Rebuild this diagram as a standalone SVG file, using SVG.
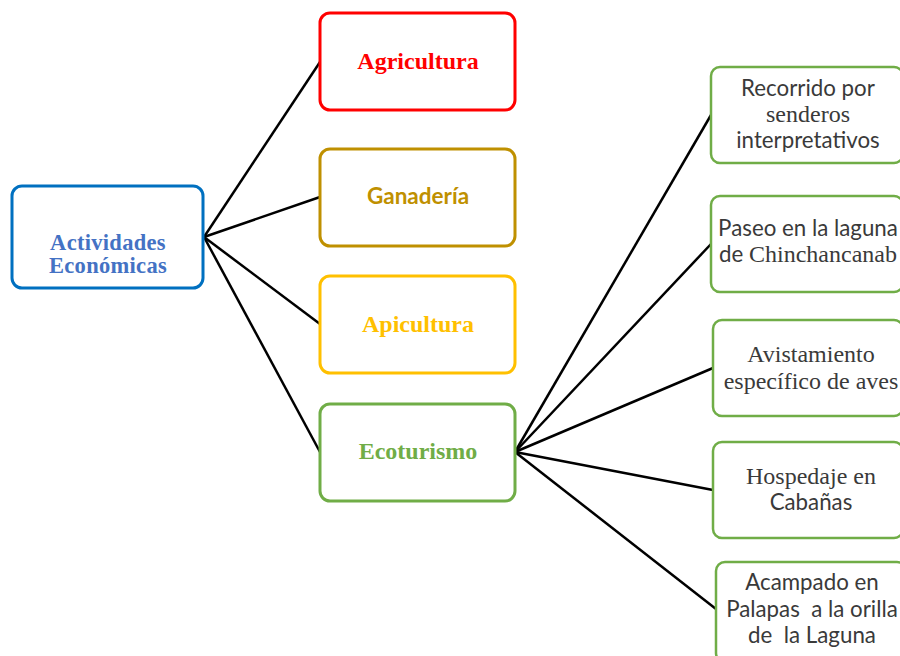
<svg xmlns="http://www.w3.org/2000/svg" width="900" height="656" viewBox="0 0 900 656">
<style>
.box{fill:#fff;stroke-width:3}
.rbox{fill:#fff;stroke:#70ad47;stroke-width:2.5}
.serifb{font-family:"Liberation Serif","Times New Roman",serif;font-weight:bold;font-size:24px;text-anchor:middle}
.lt{font-size:22.5px;letter-spacing:0.3px}
.sansb{font-family:Lato,"Liberation Sans",sans-serif;font-weight:bold;font-size:22.5px;text-anchor:middle}
.rt{fill:#3a3a3a;text-anchor:middle}
.s{font-family:Lato,"Liberation Sans",sans-serif;font-size:22.3px}
.r{font-family:"Liberation Serif","Times New Roman",serif;font-size:24px}
.conn{stroke:#000;stroke-width:2.5;fill:none}
</style>
<rect width="900" height="656" fill="#fff"/>
<g id="connectors" class="conn">
<line x1="204" y1="237" x2="320" y2="62"/>
<line x1="204" y1="237" x2="320" y2="197"/>
<line x1="204" y1="237" x2="320" y2="324"/>
<line x1="204" y1="237" x2="320" y2="452"/>
<line x1="515" y1="452" x2="711" y2="115"/>
<line x1="515" y1="452" x2="711" y2="244"/>
<line x1="515" y1="452" x2="713" y2="368"/>
<line x1="515" y1="452" x2="713" y2="490"/>
<line x1="515" y1="452" x2="716" y2="609"/>
</g>
<g id="actividades">
<rect class="box" x="12" y="186" width="191" height="102" rx="10" stroke="#0070c0"/>
<text class="serifb lt" x="108" y="249.5" fill="#4472c4">Actividades</text>
<text class="serifb lt" x="108" y="272.5" fill="#4472c4">Económicas</text>
</g>
<g id="agricultura">
<rect class="box" x="320" y="13" width="195" height="97" rx="10" stroke="#ff0000"/>
<text class="serifb" x="418" y="69" fill="#ff0000">Agricultura</text>
</g>
<g id="ganaderia">
<rect class="box" x="320" y="149" width="195" height="97" rx="10" stroke="#bf9000"/>
<text class="sansb" x="418" y="204" fill="#bf9000">Ganadería</text>
</g>
<g id="apicultura">
<rect class="box" x="320" y="276" width="195" height="97" rx="10" stroke="#ffc000"/>
<text class="serifb" x="418" y="332" fill="#ffc000">Apicultura</text>
</g>
<g id="ecoturismo">
<rect class="box" x="320" y="404" width="195" height="97" rx="10" stroke="#70ad47"/>
<text class="serifb" x="418" y="459" fill="#70ad47">Ecoturismo</text>
</g>
<g id="recorrido">
<rect class="rbox" x="711" y="67" width="192" height="96" rx="9"/>
<text class="rt s" x="808" y="96">Recorrido por</text>
<text class="rt r" x="808" y="122">senderos</text>
<text class="rt s" x="808" y="148">interpretativos</text>
</g>
<g id="paseo">
<rect class="rbox" x="711" y="196" width="192" height="96" rx="9"/>
<text class="rt s" x="808" y="236">Paseo en la laguna</text>
<text class="rt" x="808" y="262"><tspan class="s">de </tspan><tspan class="r">Chinchancanab</tspan></text>
</g>
<g id="avistamiento">
<rect class="rbox" x="713" y="320" width="190" height="96" rx="9"/>
<text class="rt r" x="811" y="362">Avistamiento</text>
<text class="rt r" x="811" y="389">específico de aves</text>
</g>
<g id="hospedaje">
<rect class="rbox" x="713" y="442" width="190" height="96" rx="9"/>
<text class="rt r" x="811" y="484">Hospedaje en</text>
<text class="rt s" x="811" y="510">Cabañas</text>
</g>
<g id="acampado">
<rect class="rbox" x="716" y="562" width="190" height="100" rx="9"/>
<text class="rt s" x="812" y="590">Acampado en</text>
<text class="rt s" x="812" y="617" xml:space="preserve">Palapas  a la orilla</text>
<text class="rt s" x="812" y="643" xml:space="preserve">de  la Laguna</text>
</g>
</svg>
